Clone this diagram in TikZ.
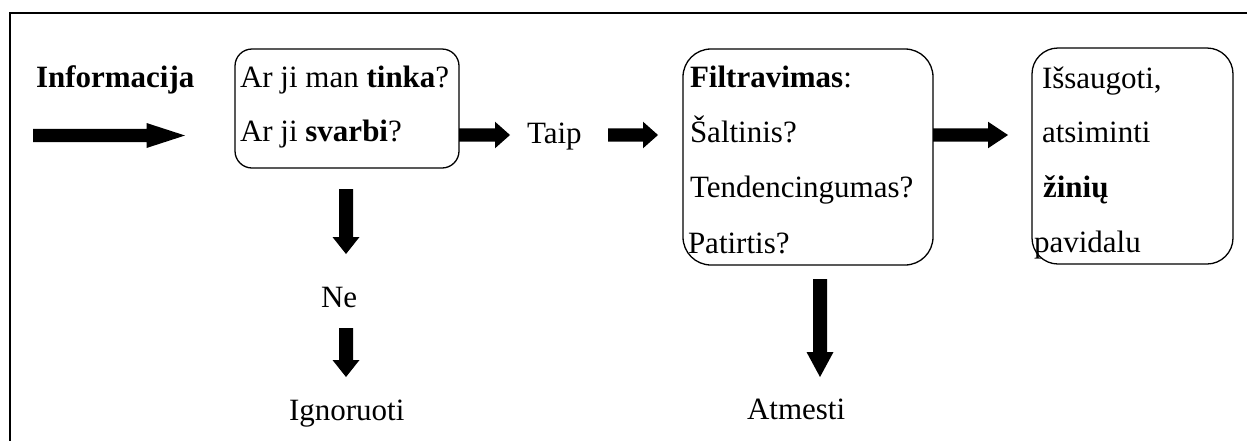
\documentclass[tikz,border=0pt]{standalone}
\usepackage{fontspec}
\setmainfont{Liberation Serif}
\usetikzlibrary{calc}

% block arrows: start, tip, half shaft width, half head width, head length
\newcommand{\harrow}[5]{%
  \fill let \p1=(#1), \p2=(#2) in
    (\x1,\y1+#3) -- (\x2-#5,\y1+#3) -- (\x2-#5,\y1+#4) -- (\x2,\y1)
    -- (\x2-#5,\y1-#4) -- (\x2-#5,\y1-#3) -- (\x1,\y1-#3) -- cycle;}
\newcommand{\varrow}[5]{%
  \fill let \p1=(#1), \p2=(#2) in
    (\x1+#3,\y1) -- (\x1+#3,\y2+#5) -- (\x1+#4,\y2+#5) -- (\x1,\y2)
    -- (\x1-#4,\y2+#5) -- (\x1-#3,\y2+#5) -- (\x1-#3,\y1) -- cycle;}

\tikzset{
  every node/.style={font=\fontsize{31}{37}\selectfont, inner sep=0pt, outer sep=0pt},
  txt/.style={anchor=base west},
  roundbox/.style={draw, line width=1.3pt, minimum width=#1},
}

\begin{document}
\begin{tikzpicture}[x=1pt, y=-1pt]
  \useasboundingbox (0,0) rectangle (1247,440);

  % frame
  \draw[line width=2pt] (10,445) -- (10,13) -- (1252,13);

  % boxes
  \node[roundbox=224pt, minimum height=119pt, rounded corners=17pt] (b1) at (347,108.5) {};
  \node[roundbox=250pt, minimum height=216pt, rounded corners=28pt] (b2) at (808,157) {};
  \node[roundbox=201pt, minimum height=216pt, rounded corners=26pt] (b3) at (1132.5,156) {};

  % texts
  \node[txt] (info) at (36,87) {\textbf{Informacija}};
  \node[txt] (q1) at (240,87) {Ar ji man \textbf{tinka}?};
  \node[txt] (q2) at (240,141) {Ar ji \textbf{svarbi}?};
  \node[txt] (taip) at (527,143) {Taip};
  \node[txt] (f1) at (690,87) {\textbf{Filtravimas}:};
  \node[txt] (f2) at (690,142) {Šaltinis?};
  \node[txt] (f3) at (690,197) {Tendencingumas?};
  \node[txt] (f4) at (688,253) {Patirtis?};
  \node[txt] (s1) at (1042,88) {Išsaugoti,};
  \node[txt] (s2) at (1042,142) {atsiminti};
  \node[txt] (s3) at (1043,197) {\textbf{žinių}};
  \node[txt] (s4) at (1034,252) {pavidalu};
  \node[txt] (ne) at (321,307) {Ne};
  \node[txt] (ign) at (289,420) {Ignoruoti};
  \node[txt] (atm) at (747,419) {Atmesti};

  % arrow ends
  \coordinate (a0s) at (33,135.5);   \coordinate (a0e) at (185,135.5);
  \coordinate (a1s) at (b1.east |- 0,135); \coordinate (a1e) at (510,135);
  \coordinate (a2s) at (608,135);    \coordinate (a2e) at (658,135);
  \coordinate (a3s) at (b2.east |- 0,135); \coordinate (a3e) at (1008,135);
  \coordinate (v1s) at (346,189);    \coordinate (v1e) at (346,254);
  \coordinate (v2s) at (346,328);    \coordinate (v2e) at (346,377);
  \coordinate (v3s) at (820,279);    \coordinate (v3e) at (820,377);

  % arrows
  \harrow{a0s}{a0e}{6.7pt}{12.5pt}{38.5pt}
  \harrow{a1s}{a1e}{6.7pt}{13.3pt}{15pt}
  \harrow{a2s}{a2e}{6.7pt}{13.3pt}{15pt}
  \harrow{a3s}{a3e}{6.7pt}{13.3pt}{20pt}
  \varrow{v1s}{v1e}{7pt}{13.5pt}{17pt}
  \varrow{v2s}{v2e}{7pt}{13.5pt}{17pt}
  \varrow{v3s}{v3e}{7pt}{13.5pt}{25pt}
\end{tikzpicture}
\end{document}
